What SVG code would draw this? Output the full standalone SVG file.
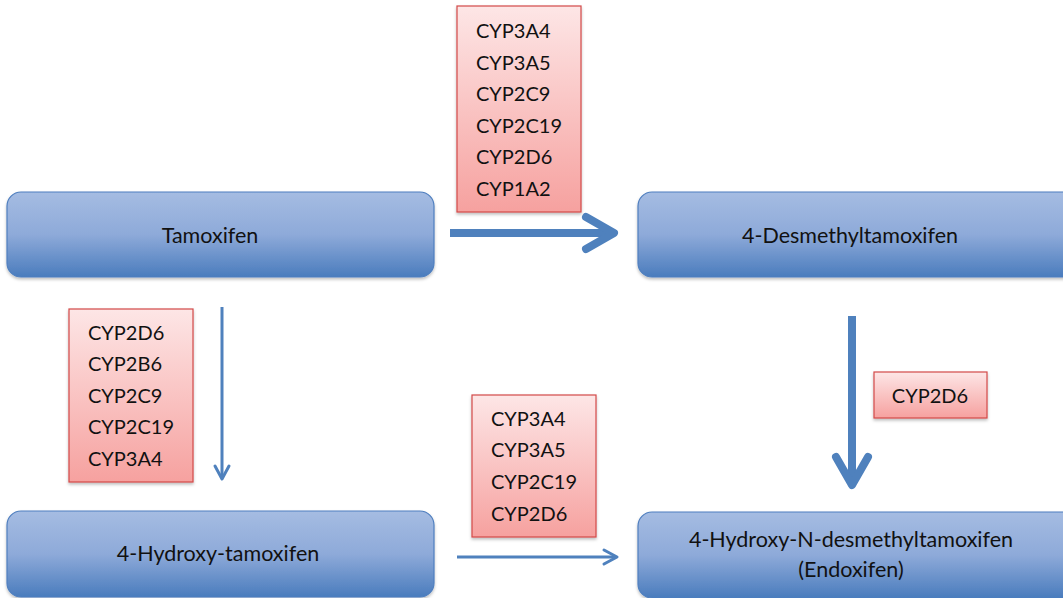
<svg xmlns="http://www.w3.org/2000/svg" width="1063" height="598" viewBox="0 0 1063 598">
  <defs>
    <linearGradient id="blueFill" x1="0" y1="0" x2="0" y2="1">
      <stop offset="0" stop-color="#a5bce2"/>
      <stop offset="0.5" stop-color="#8eaad9"/>
      <stop offset="1" stop-color="#4a7cbd"/>
    </linearGradient>
    <linearGradient id="redFill" x1="0" y1="0" x2="0" y2="1">
      <stop offset="0" stop-color="#fde6e6"/>
      <stop offset="1" stop-color="#f6a19f"/>
    </linearGradient>
    <filter id="shadow" x="-5%" y="-10%" width="110%" height="130%">
      <feDropShadow dx="0" dy="2" stdDeviation="1.5" flood-color="#000" flood-opacity="0.25"/>
    </filter>
  </defs>
  <style>
    .node { fill: url(#blueFill); stroke: #4f7fbf; stroke-width: 1.2; filter: url(#shadow); }
    .enz { fill: url(#redFill); stroke: #d24a48; stroke-width: 1.2; filter: url(#shadow); }
    text { font-family: Lato, "Open Sans", "Liberation Sans", sans-serif; font-size: 20px; fill: #111; }
    .n { font-size: 21.5px; text-anchor: middle; }
    .c { text-anchor: middle; }
    .thick { stroke: #4f81bd; stroke-width: 8; fill: none; }
    .thin { stroke: #4f81bd; stroke-width: 3; fill: none; }
  </style>
  <rect width="1063" height="598" fill="#ffffff"/>

  <g id="tamoxifen">
    <rect class="node" x="7" y="192" width="427" height="85" rx="14"/>
    <text class="n" x="210" y="243">Tamoxifen</text>
  </g>
  <g id="desmethyltamoxifen">
    <rect class="node" x="638" y="192" width="440" height="85" rx="14"/>
    <text class="n" x="850" y="243">4-Desmethyltamoxifen</text>
  </g>
  <g id="hydroxytamoxifen">
    <rect class="node" x="7" y="511" width="427" height="86" rx="14"/>
    <text class="n" x="218" y="561">4-Hydroxy-tamoxifen</text>
  </g>
  <g id="endoxifen">
    <rect class="node" x="638" y="512" width="440" height="86" rx="14"/>
    <text class="n" x="851" y="547">4-Hydroxy-N-desmethyltamoxifen</text>
    <text class="n" x="851" y="577">(Endoxifen)</text>
  </g>

  <g id="enzymes-demethylation">
    <rect class="enz" x="457" y="6" width="124" height="206"/>
    <text x="476" y="38">CYP3A4</text>
    <text x="476" y="70">CYP3A5</text>
    <text x="476" y="101">CYP2C9</text>
    <text x="476" y="133">CYP2C19</text>
    <text x="476" y="164">CYP2D6</text>
    <text x="476" y="196">CYP1A2</text>
  </g>
  <g id="enzymes-hydroxylation">
    <rect class="enz" x="69" y="309" width="124" height="173"/>
    <text x="88" y="340">CYP2D6</text>
    <text x="88" y="371">CYP2B6</text>
    <text x="88" y="403">CYP2C9</text>
    <text x="88" y="434">CYP2C19</text>
    <text x="88" y="466">CYP3A4</text>
  </g>
  <g id="enzymes-endoxifen-a">
    <rect class="enz" x="472" y="395" width="124" height="142"/>
    <text x="491" y="426">CYP3A4</text>
    <text x="491" y="457">CYP3A5</text>
    <text x="491" y="489">CYP2C19</text>
    <text x="491" y="521">CYP2D6</text>
  </g>
  <g id="enzymes-endoxifen-b">
    <rect class="enz" x="874" y="372" width="113" height="46"/>
    <text class="c" x="930" y="403">CYP2D6</text>
  </g>

  <g id="connectors">
    <line class="thick" x1="450" y1="233" x2="612" y2="233"/>
    <polyline class="thick" points="586,217 614,233 586,249" stroke-linecap="round" stroke-linejoin="round"/>
    <line class="thick" x1="852" y1="316" x2="852" y2="484"/>
    <polyline class="thick" points="836,457 852,485 868,457" stroke-linecap="round" stroke-linejoin="round"/>
    <line class="thin" x1="222" y1="307" x2="222" y2="478"/>
    <polyline class="thin" points="215,466 222,479 229,466" stroke-linecap="round" stroke-linejoin="round"/>
    <line class="thin" x1="457" y1="557" x2="616" y2="557"/>
    <polyline class="thin" points="604,550 617,557 604,564" stroke-linecap="round" stroke-linejoin="round"/>
  </g>
</svg>
